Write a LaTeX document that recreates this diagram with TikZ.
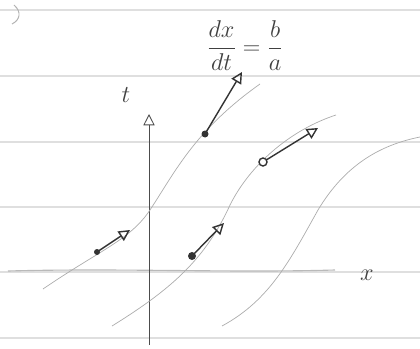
\documentclass[tikz,border=0pt]{standalone}
\usetikzlibrary{arrows.meta}
\tikzset{
  rule/.style={gray!25, line width=0.8pt},
  pencil/.style={gray!65, line width=0.5pt},
  vecline/.style={gray!40!black, line width=1pt, -{Triangle[open,length=8pt,width=8pt]}},
  lbl/.style={gray!50!black}
}
\begin{document}
\begin{tikzpicture}[x=0.025cm, y=-0.025cm]
            \useasboundingbox (0,0) rectangle (420,348);
            % ruled paper
            \foreach \yy in {10,76,142,207,272,338}
              \draw[rule] (0,\yy) -- (420,\yy);
            \draw[gray!60, line width=0.7pt] (14,5) .. controls (22,12) and (20,20) .. (12,24);
            % axes
            \draw[gray!55, line width=0.8pt] (8,271) .. controls (120,268) and (230,273) .. (335,270);
            \draw[gray!60!black, line width=0.6pt, -{Triangle[open,length=8pt,width=8pt]}] (149,345) -- (149,114);
            \node[lbl, font=\LARGE] (tlab) at (126,95) {$t$};
            \node[lbl, font=\LARGE] (xlab) at (367,275) {$x$};
            % characteristic curves
            \draw[pencil] (43,289) .. controls (100,250) and (130,240) .. (150,210)
                              .. controls (175,172) and (195,130) .. (260,84);
            \draw[pencil] (112,326) .. controls (170,290) and (205,260) .. (230,205)
                              .. controls (250,165) and (290,130) .. (336,115);
            \draw[pencil] (222,326) .. controls (270,300) and (290,260) .. (318,210)
                              .. controls (345,165) and (380,145) .. (420,137);
            % vectors along the curves
            \coordinate (p1) at (97,252);  \coordinate (q1) at (130,230);
            \coordinate (p2) at (192,256); \coordinate (q2) at (224,223);
            \coordinate (p3) at (205,134); \coordinate (q3) at (242,72);
            \coordinate (p4) at (263,162); \coordinate (q4) at (318,128);
            \draw[vecline] (p1) -- (q1);
            \draw[vecline] (p2) -- (q2);
            \draw[vecline] (p3) -- (q3);
            \draw[vecline] (p4) -- (q4);
            \fill[gray!40!black] (p1) circle (3);
            \fill[gray!40!black] (p2) circle (4);
            \fill[gray!40!black] (p3) circle (3.5);
            \draw[gray!40!black, line width=1pt, fill=white] (p4) circle (4);
            \node[lbl, font=\LARGE] (slope) at (245,46) {$\displaystyle\frac{dx}{dt}=\frac{b}{a}$};
        \end{tikzpicture}
\end{document}
